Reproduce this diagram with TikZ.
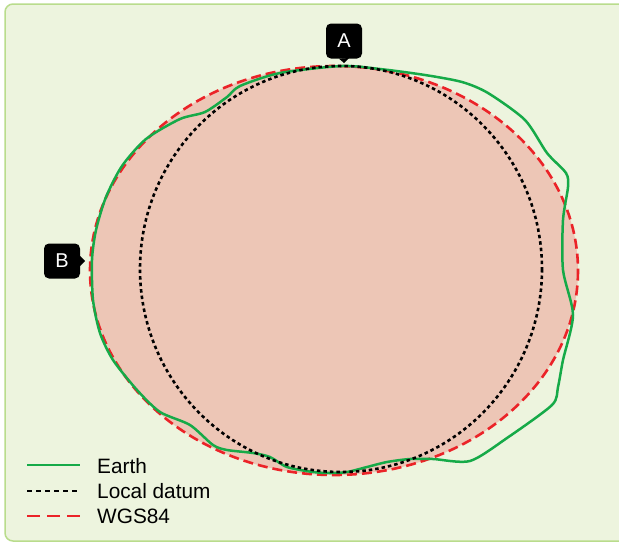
\documentclass[tikz,border=0pt]{standalone}
\usepackage{fontspec}
\setmainfont{Liberation Sans}
\definecolor{bgc}{RGB}{237,244,222}
\definecolor{framec}{RGB}{185,220,140}
\definecolor{earthc}{RGB}{22,170,72}
\definecolor{wgsc}{RGB}{235,35,40}
\definecolor{pinkc}{RGB}{237,198,182}
\tikzset{
  earthline/.style={draw=earthc, line width=2.5pt, line join=round},
  localline/.style={draw=black, line width=2.6pt, dash pattern=on 3.5pt off 3pt},
  wgsline/.style={draw=wgsc, line width=2.6pt, dash pattern=on 10pt off 5pt},
  tag/.style={fill=black, text=white, rounded corners=5pt, minimum width=36pt, minimum height=35pt, inner sep=0pt, font=\fontsize{20}{22}\selectfont},
  legtext/.style={anchor=base west, inner sep=0pt, font=\fontsize{20.8}{23}\selectfont}
}
\begin{document}
\begin{tikzpicture}[x=1pt,y=-1pt]
\useasboundingbox (0,0) rectangle (619,542);
\fill[bgc, draw=framec, line width=1.5pt, rounded corners=8pt] (5,4) rectangle (650,541);
% WGS84 fill
\fill[pinkc] (334,270.5) ellipse [x radius=244, y radius=204.5];
% WGS84 outline
\draw[wgsline] (334,270.5) ellipse [x radius=244, y radius=204.5];
% Earth
\draw[earthline] plot[smooth cycle, tension=0.45] coordinates {
(342,66) (380,69) (425,75) (462,82) (488,93) (525,120) (547,153) (566,173) (568,187) (563,220) (563,270) (573,315) (563,360) (558,387) (552,405) (507,438) (470,461) (433,459) (410,459) (387,462) (367,467) (347,472) (330,473) (313,472) (287,467) (270,457) (253,453) (227,450) (213,445) (190,425) (160,412) (137,390) (113,360) (100,333) (93,300) (92,260) (96,230) (106,197) (122,166) (146,139) (180,119) (205,112) (227,97) (240,86) (280,73)};
% Local datum
\draw[localline] (341,269) ellipse [x radius=201, y radius=203];
% Tags
\node[tag] (A) at (344,41) {A};
\fill (A.south) ++(-5,0) -- (344,63) -- ++(5,-5) -- cycle;
\node[tag] (B) at (62,261) {B};
\fill (B.east) ++(0,-5) -- (85,261) -- ++(-5,5) -- cycle;
% Legend
\coordinate (l1a) at (27,465); \coordinate (l1b) at (80,465);
\coordinate (l2a) at (27,491); \coordinate (l2b) at (80,491);
\coordinate (l3a) at (27,516); \coordinate (l3b) at (80,516);
\draw[earthline] (l1a) -- (l1b);
\draw[localline, line width=2.2pt, dash pattern=on 5pt off 4pt] (l2a) -- (l2b);
\draw[wgsline, dash pattern=on 13pt off 7pt] (l3a) -- (l3b);
\node[legtext] (t1) at (97,473) {Earth};
\node[legtext] (t2) at (97,498) {Local datum};
\node[legtext] (t3) at (97,523) {WGS84};
\end{tikzpicture}
\end{document}
